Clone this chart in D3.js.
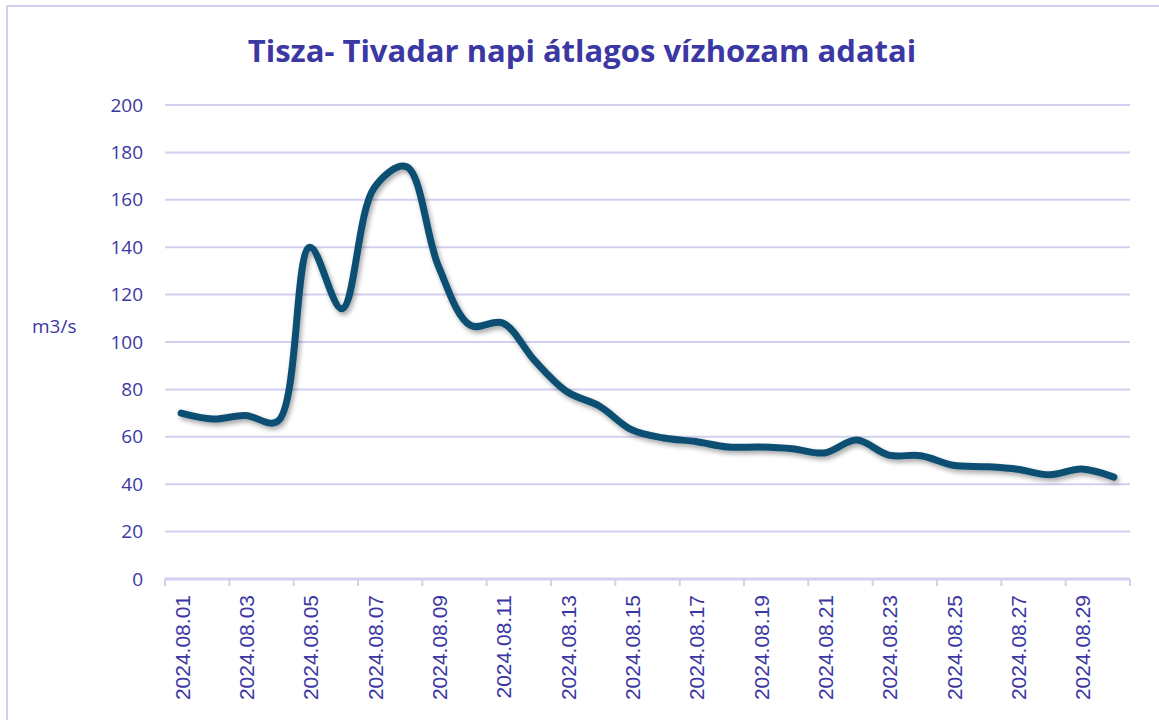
<!DOCTYPE html>
<html>
<head>
<meta charset="utf-8">
<script src="https://cdn.jsdelivr.net/npm/d3@7.9.0/dist/d3.min.js"></script>
<style>
  body { margin: 0; background: #fff; }
</style>
</head>
<body>
<svg id="chart"></svg>
<script>
// daily values
const days = d3.range(1, 31).map(d => "2024.08." + String(d).padStart(2, "0"));
const flow = [70, 67.5, 69, 66.5, 140, 114, 165, 174, 132, 107,
              108, 92, 79, 73, 63, 59.5, 58, 55.7, 55.7, 55,
              53.2, 58.6, 52.3, 52, 48, 47.4, 46.3, 44, 46.4, 43];
const yTicks = [0, 20, 40, 60, 80, 100, 120, 140, 160, 180, 200];
const title = "Tisza- Tivadar napi átlagos vízhozam adatai";
const yLabel = "m3/s";

const svgWidth = 1159;
const svgHeight = 720;
const margin = { top: 105, right: 29, bottom: 141, left: 165 };
const width = svgWidth - margin.left - margin.right;
const height = svgHeight - margin.top - margin.bottom;

const textColor = "#3b37a3";
const gridColor = "#d3cff0";

const svg = d3.select("#chart")
    .attr("width", svgWidth)
    .attr("height", svgHeight);

// outer frame
svg.append("rect")
    .attr("x", 7).attr("y", 6)
    .attr("width", svgWidth + 10).attr("height", svgHeight + 10)
    .attr("fill", "none")
    .attr("stroke", gridColor)
    .attr("stroke-width", 2);

const defs = svg.append("defs");
const shadow = defs.append("filter").attr("id", "shadow")
    .attr("x", "-5%").attr("y", "-5%").attr("width", "110%").attr("height", "120%");
shadow.append("feGaussianBlur").attr("in", "SourceAlpha").attr("stdDeviation", 2.5);
shadow.append("feOffset").attr("dx", 2).attr("dy", 3).attr("result", "b");
shadow.append("feComponentTransfer").append("feFuncA").attr("type", "linear").attr("slope", 0.35);
const merge = shadow.append("feMerge");
merge.append("feMergeNode");
merge.append("feMergeNode").attr("in", "SourceGraphic");

const chartGroup = svg.append("g")
    .attr("transform", `translate(${margin.left}, ${margin.top})`);

let xScale = d3.scaleBand()
    .domain(days)
    .range([0, width]);

let yScale = d3.scaleLinear()
    .domain([0, 200])
    .range([height, 0]);

// gridlines
chartGroup.append("g")
    .selectAll("line")
    .data(yTicks.slice(1))
    .join("line")
    .attr("x1", 0).attr("x2", width)
    .attr("y1", d => yScale(d)).attr("y2", d => yScale(d))
    .attr("stroke", gridColor)
    .attr("stroke-width", 2);

// y axis labels
const yAxis = chartGroup.append("g")
    .attr("transform", "translate(-22, 0)")
    .call(d3.axisLeft(yScale).tickValues(yTicks).tickSize(0).tickPadding(0));
yAxis.select(".domain").remove();
yAxis.selectAll("text")
    .attr("fill", textColor)
    .style("font-family", "'Open Sans'")
    .style("font-size", "19px");

// x axis: tick every 2 categories, on boundaries
const tickPos = d3.range(0, days.length + 1, 2).map(i => i * xScale.step());
const xg = chartGroup.append("g").attr("transform", `translate(0, ${height})`);
xg.append("line")
    .attr("x1", 0).attr("x2", width)
    .attr("stroke", gridColor).attr("stroke-width", 3);
xg.selectAll(".tk")
    .data(tickPos)
    .join("line")
    .attr("class", "tk")
    .attr("x1", d => d).attr("x2", d => d)
    .attr("y1", 0).attr("y2", 7)
    .attr("stroke", gridColor).attr("stroke-width", 2);

xg.selectAll(".lbl")
    .data(days.filter((d, i) => i % 2 === 0))
    .join("text")
    .attr("class", "lbl")
    .attr("transform", d => `translate(${xScale(d) + xScale.bandwidth() / 2 + 1}, 16) rotate(-90)`)
    .attr("text-anchor", "end")
    .attr("dy", "0.36em")
    .attr("fill", textColor)
    .style("font-family", "'Liberation Sans'")
    .style("font-size", "21px")
    .text(d => d);

// line
const line = d3.line()
    .x((d, i) => xScale(days[i]) + xScale.bandwidth() / 2)
    .y(d => yScale(d))
    .curve(d3.curveCatmullRom.alpha(0.5));

chartGroup.append("path")
    .datum(flow)
    .attr("d", line)
    .attr("fill", "none")
    .attr("stroke", "#0b4f73")
    .attr("stroke-width", 7)
    .attr("stroke-linecap", "round")
    .attr("stroke-linejoin", "round")
    .attr("filter", "url(#shadow)");

// title
svg.append("text")
    .attr("x", 582)
    .attr("y", 62)
    .attr("text-anchor", "middle")
    .attr("fill", textColor)
    .style("font-family", "'Open Sans'")
    .style("font-size", "31px")
    .style("font-weight", "bold")
    .text(title);

svg.append("text")
    .attr("x", 32)
    .attr("y", 333)
    .attr("fill", textColor)
    .style("font-family", "'Open Sans'")
    .style("font-size", "19px")
    .text(yLabel);
</script>
</body>
</html>
